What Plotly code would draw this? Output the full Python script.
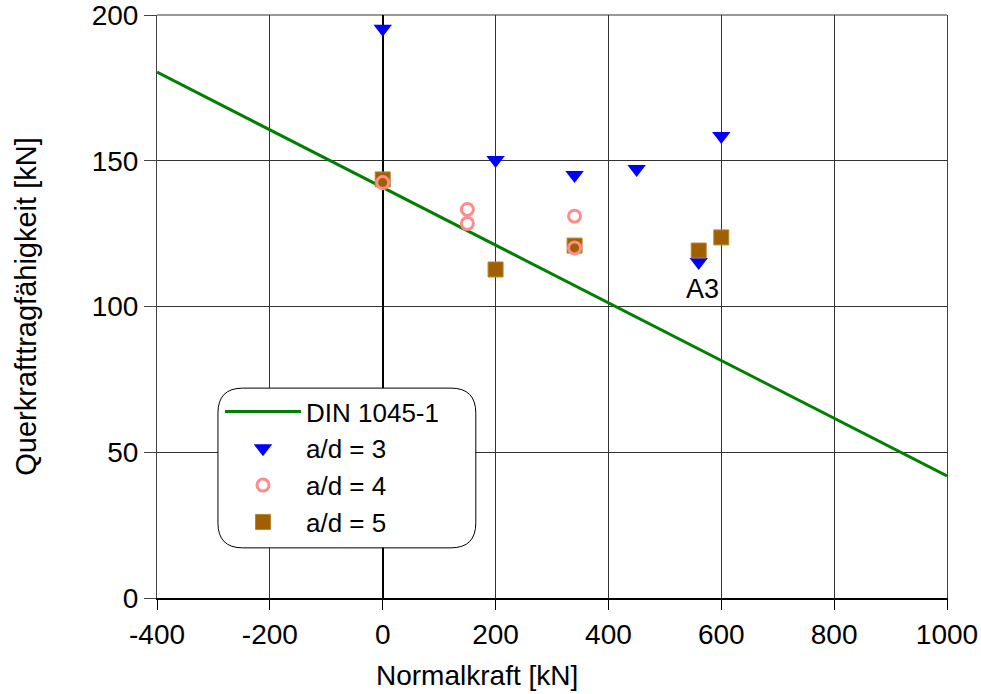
import plotly.graph_objects as go

# DIN 1045-1 design line
din_x = [-400, 1000]
din_y = [180.4, 41.9]

# a/d = 3
ad3_x = [0, 200, 340, 450, 600, 560]
ad3_y = [195.3, 150.3, 145.1, 147.2, 158.5, 115.3]

# a/d = 4
ad4_x = [0, 150, 150, 340, 340]
ad4_y = [142.5, 133.3, 128.5, 131.0, 120.1]

# a/d = 5
ad5_x = [0, 200, 340, 560, 600]
ad5_y = [143.6, 112.7, 120.9, 119.2, 123.7]

x_ticks = [-400, -200, 0, 200, 400, 600, 800, 1000]
y_ticks = [0, 50, 100, 150, 200]

FONT = "Arial, Liberation Sans, sans-serif"

fig = go.Figure()
fig.add_trace(go.Scatter(x=din_x, y=din_y, mode="lines", name="DIN 1045-1",
                         line=dict(color="#008000", width=3), legendrank=1))
fig.add_trace(go.Scatter(x=ad3_x, y=ad3_y, mode="markers", name="a/d = 3",
                         marker=dict(symbol="triangle-down", size=16, color="#0000FF"),
                         legendrank=2))
fig.add_trace(go.Scatter(x=ad5_x, y=ad5_y, mode="markers", name="a/d = 5",
                         marker=dict(symbol="square", size=15, color="#A05F00",
                                     line=dict(color="#B8862E", width=1)),
                         legendrank=4))
fig.add_trace(go.Scatter(x=ad4_x, y=ad4_y, mode="markers", name="a/d = 4",
                         marker=dict(symbol="circle-open", size=12, color="#FF8C8C",
                                     line=dict(width=3)),
                         legendrank=3))

# rounded legend box
x0, x1, y0, y1 = -292, 165, 17.2, 72.0
rx, ry = 44, 8.6
path = (f"M {x0+rx},{y1} L {x1-rx},{y1} Q {x1},{y1} {x1},{y1-ry} "
        f"L {x1},{y0+ry} Q {x1},{y0} {x1-rx},{y0} L {x0+rx},{y0} "
        f"Q {x0},{y0} {x0},{y0+ry} L {x0},{y1-ry} Q {x0},{y1} {x0+rx},{y1} Z")
fig.add_shape(type="path", path=path, xref="x", yref="y", layer="between",
              fillcolor="white", line=dict(color="black", width=1))

# top frame line
fig.add_shape(type="line", xref="paper", yref="paper", x0=0, x1=1, y0=1, y1=1,
              line=dict(color="#333333", width=1), layer="below")

fig.add_annotation(x=560, y=106, text="A3", showarrow=False, xshift=4,
                   font=dict(family=FONT, size=27, color="black"))

# x-axis title (offset left of centre as in the original)
fig.add_annotation(xref="paper", yref="paper", x=(477 - 157) / 790, y=(598 - 676) / 583,
                   xanchor="center", yanchor="middle", showarrow=False,
                   text="Normalkraft [kN]", font=dict(family=FONT, size=28, color="black"))

fig.update_layout(
    width=981, height=694,
    margin=dict(l=157, r=34, t=15, b=96),
    paper_bgcolor="white", plot_bgcolor="white",
    font=dict(family=FONT, size=27, color="black"),
    showlegend=True,
    legend=dict(x=(220 - 157) / 790, y=0.360, xanchor="left", yanchor="top",
                bgcolor="rgba(0,0,0,0)", borderwidth=0,
                font=dict(family=FONT, size=26, color="black"),
                itemwidth=76, tracegroupgap=0),
    xaxis=dict(range=[-400, 1000], tickvals=x_ticks, ticktext=[str(v) for v in x_ticks],
               automargin=False, ticklabeloverflow="allow",
               showgrid=True, gridcolor="#333333", gridwidth=1,
               zeroline=True, zerolinecolor="black", zerolinewidth=2,
               showline=True, linecolor="black", linewidth=2,
               ticks="outside", ticklen=10, tickcolor="black", tickwidth=1,
               tickfont=dict(size=28)),
    yaxis=dict(range=[0, 200], tickvals=y_ticks, ticktext=[str(v) for v in y_ticks],
               automargin=False, ticklabeloverflow="allow",
               showgrid=True, gridcolor="#333333", gridwidth=1,
               zeroline=False,
               showline=True, linecolor="#444444", linewidth=1, mirror=True,
               ticks="outside", ticklen=12, tickcolor="#444444", tickwidth=1,
               tickfont=dict(size=28),
               title=dict(text="Querkrafttragfähigkeit [kN]", font=dict(size=29), standoff=46)),
)

fig.write_html("out.html")
